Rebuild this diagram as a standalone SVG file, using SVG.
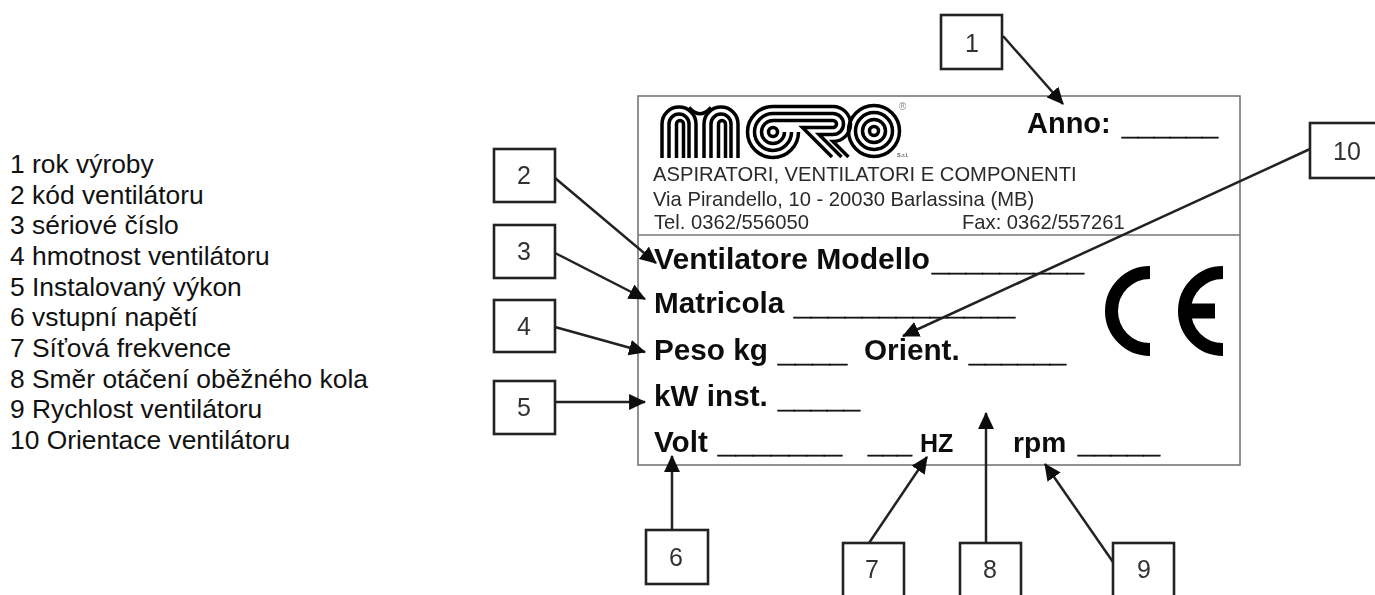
<svg xmlns="http://www.w3.org/2000/svg" width="1375" height="595" viewBox="0 0 1375 595">
<style>
text{font-family:"Liberation Sans",Arial,sans-serif}
.leg{font-size:26.4px;fill:#111}
.hd{font-size:20.2px;fill:#2a2a2a}
.b{font-size:29.7px;font-weight:bold;fill:#111}
.u{stroke:#111;stroke-width:.8}
.num{font-size:25px;fill:#333;text-anchor:middle}
.box{fill:#fff;stroke:#222;stroke-width:2.6}
.frame{fill:#fff;stroke:#777;stroke-width:1.6}
.div{stroke:#777;stroke-width:1.6}
.conn{fill:none;stroke:#222;stroke-width:2.5;marker-end:url(#ah)}
.lg{fill:none;stroke:#000;stroke-width:3.5}
</style>
<defs>
<marker id="ah" markerUnits="userSpaceOnUse" markerWidth="17" markerHeight="16" viewBox="0 0 16 15" refX="15" refY="7.5" orient="auto"><path d="M0,0L16,7.5L0,15Z" fill="#111"/></marker>
<filter id="soft" x="-2%" y="-2%" width="104%" height="104%"><feGaussianBlur stdDeviation="0.45"/></filter>
</defs>
<rect width="1375" height="595" fill="#fff"/>
<g id="legend">
<text class="leg" x="10" y="173">1 rok výroby</text>
<text class="leg" x="10" y="203.7">2 kód ventilátoru</text>
<text class="leg" x="10" y="234.3">3 sériové číslo</text>
<text class="leg" x="10" y="265">4 hmotnost ventilátoru</text>
<text class="leg" x="10" y="295.7">5 Instalovaný výkon</text>
<text class="leg" x="10" y="326.3">6 vstupní napětí</text>
<text class="leg" x="10" y="357">7 Síťová frekvence</text>
<text class="leg" x="10" y="387.7">8 Směr otáčení oběžného kola</text>
<text class="leg" x="10" y="418.3">9 Rychlost ventilátoru</text>
<text class="leg" x="10" y="449">10 Orientace ventilátoru</text>
</g>
<g id="plate" filter="url(#soft)">
<rect class="frame" x="638" y="96" width="602" height="369"/>
<line class="div" x1="638" y1="235" x2="1240" y2="235"/>
<g id="logo">
<path class="lg" d="M662,158V124A17,17 0 0 1 696,124V158M669,158V124A10,10 0 0 1 689,124V158M676.500,158V124A3.500,3.500 0 0 1 683.500,124V158"/>
<path class="lg" d="M704,158V124A17,17 0 0 1 738,124V158M711,158V124A10,10 0 0 1 731,124V158M718.500,158V124A3.500,3.500 0 0 1 725.500,124V158"/>
<path class="lg" d="M689,107.500Q700,120 711,107.500"/>
<path class="lg" d="M773,106.500A25.500,25.500 0 1 0 798.500,132M773,113.500A18.500,18.500 0 1 0 791.500,132M773,120.500A11.500,11.500 0 1 0 784.500,132"/>
<circle cx="773" cy="132" r="4.500" class="lg"/>
<path class="lg" d="M773,106.500H833A17.500,17.500 0 0 1 833,141.500L848.500,157M773,113.500H833A10.500,10.500 0 0 1 833,134.500H819L841.500,157M773,120.500H833A3.500,3.500 0 0 1 833,127.500H802.500L832,157"/>
<circle cx="874" cy="131" r="25.500" class="lg"/>
<circle cx="874" cy="131" r="18.500" class="lg"/>
<circle cx="874" cy="131" r="11.500" class="lg"/>
<circle cx="874" cy="131" r="4.500" class="lg"/>
<text x="899" y="110" font-size="10" fill="#888">®</text>
<text x="897" y="157" font-size="5.500" font-weight="bold" fill="#555">S.r.l.</text>
</g>
<text x="1027" y="133" font-size="29" font-weight="bold" fill="#111">Anno:</text>
<text class="b u" x="1122" y="134.500" textLength="96" lengthAdjust="spacingAndGlyphs">______</text>
<text class="hd" x="653" y="181">ASPIRATORI, VENTILATORI E COMPONENTI</text>
<text class="hd" x="653" y="206">Via Pirandello, 10 - 20030 Barlassina (MB)</text>
<text class="hd" x="654" y="229">Tel. 0362/556050</text>
<text class="hd" x="962" y="229">Fax: 0362/557261</text>
<text class="b" x="654" y="269" style="font-size:30.1px">Ventilatore Modello</text>
<text class="b u" x="932" y="270.500" textLength="152" lengthAdjust="spacingAndGlyphs">_________</text>
<text class="b" x="654" y="313">Matricola</text>
<text class="b u" x="794" y="315" textLength="221" lengthAdjust="spacingAndGlyphs">_____________</text>
<text class="b" x="654" y="360">Peso kg</text>
<text class="b u" x="778" y="361.500" textLength="69" lengthAdjust="spacingAndGlyphs">____</text>
<text class="b" x="864" y="360">Orient.</text>
<text class="b u" x="969" y="361.500" textLength="97" lengthAdjust="spacingAndGlyphs">______</text>
<text class="b" x="654" y="406">kW inst.</text>
<text class="b u" x="778" y="407.500" textLength="82" lengthAdjust="spacingAndGlyphs">_____</text>
<text class="b" x="654" y="452">Volt</text>
<text class="b u" x="718" y="452.500" textLength="124" lengthAdjust="spacingAndGlyphs">_______</text>
<text class="b u" x="868" y="452.500" textLength="44" lengthAdjust="spacingAndGlyphs">___</text>
<text class="b" x="920" y="452" style="font-size:25px">HZ</text>
<text class="b" x="1013" y="452" style="font-size:28.2px">rpm</text>
<text class="b u" x="1078" y="452.500" textLength="82" lengthAdjust="spacingAndGlyphs">_____</text>
<g id="ce" fill="none" stroke="#000" stroke-width="13">
<path d="M1150,272.500A38.500,38.500 0 0 0 1150,349.500"/>
<path d="M1223,272.500A38.500,38.500 0 0 0 1223,349.500"/>
<path d="M1186,311H1215" stroke-width="15"/>
</g>
</g>
<g id="connectors" filter="url(#soft)">
<line class="conn" x1="1003" y1="36" x2="1063" y2="104"/>
<line class="conn" x1="555" y1="178" x2="656" y2="263"/>
<line class="conn" x1="555" y1="253" x2="645" y2="299"/>
<line class="conn" x1="555" y1="327" x2="645" y2="352"/>
<line class="conn" x1="555" y1="402" x2="645" y2="402"/>
<line class="conn" x1="672" y1="530" x2="672" y2="456"/>
<line class="conn" x1="869" y1="543" x2="927" y2="457"/>
<line class="conn" x1="986" y1="543" x2="986" y2="413"/>
<line class="conn" x1="1113" y1="562" x2="1045" y2="464"/>
<line class="conn" x1="1310" y1="149" x2="903" y2="336"/>
</g>
<g filter="url(#soft)">
<g id="node-1"><rect class="box" x="941" y="15" width="61" height="54"/><text class="num" x="972" y="52">1</text></g>
<g id="node-2"><rect class="box" x="494" y="149" width="61" height="53"/><text class="num" x="524" y="184">2</text></g>
<g id="node-3"><rect class="box" x="494" y="225" width="61" height="53"/><text class="num" x="524" y="260">3</text></g>
<g id="node-4"><rect class="box" x="494" y="300" width="61" height="52"/><text class="num" x="524" y="335">4</text></g>
<g id="node-5"><rect class="box" x="494" y="381" width="61" height="53"/><text class="num" x="524" y="416">5</text></g>
<g id="node-6"><rect class="box" x="646" y="530" width="62" height="54"/><text class="num" x="676" y="566">6</text></g>
<g id="node-7"><rect class="box" x="843" y="543" width="61" height="70"/><text class="num" x="872" y="578">7</text></g>
<g id="node-8"><rect class="box" x="960" y="543" width="61" height="70"/><text class="num" x="990" y="578">8</text></g>
<g id="node-9"><rect class="box" x="1113" y="543" width="61" height="70"/><text class="num" x="1144" y="578">9</text></g>
<g id="node-10"><rect class="box" x="1310" y="123" width="90" height="55"/><text class="num" x="1347" y="160">10</text></g>
</g>
</svg>
